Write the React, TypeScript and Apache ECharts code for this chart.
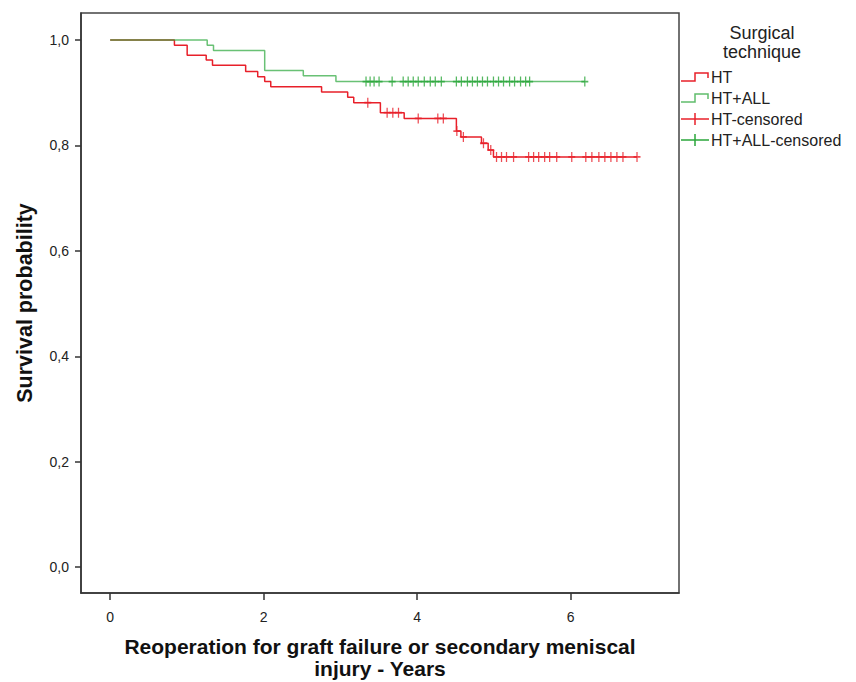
import React, { useEffect, useRef } from "react";
import * as echarts from "echarts";

// Kaplan-Meier step data (time in years, survival probability)
const HT_TIMES = [0, 0.837, 1.003, 1.251, 1.333, 1.765, 1.922, 2.013, 2.092, 2.754, 3.094, 3.173, 3.52, 3.83, 4.51, 4.569, 4.837, 4.924, 4.993, 6.863];
const HT_SURV = [1, 0.99, 0.971, 0.962, 0.952, 0.94, 0.93, 0.921, 0.911, 0.901, 0.891, 0.881, 0.862, 0.851, 0.827, 0.816, 0.804, 0.791, 0.778, 0.778];
const HTALL_TIMES = [0, 1.264, 1.346, 2.013, 2.516, 2.941, 6.183];
const HTALL_SURV = [1, 0.99, 0.98, 0.942, 0.932, 0.921, 0.921];

// Censoring times
const HT_CENSORED = [3.356, 3.608, 3.682, 3.756, 4.013, 4.268, 4.34, 4.516, 4.601, 4.863, 4.958, 5.033, 5.098, 5.163, 5.255, 5.451, 5.516, 5.582, 5.66, 5.725, 5.817, 6.013, 6.196, 6.275, 6.366, 6.444, 6.523, 6.601, 6.68, 6.863];
const HTALL_CENSORED = [3.333, 3.386, 3.438, 3.503, 3.673, 3.817, 3.882, 3.948, 4.013, 4.092, 4.17, 4.235, 4.314, 4.51, 4.575, 4.654, 4.719, 4.784, 4.85, 4.915, 4.993, 5.059, 5.124, 5.203, 5.268, 5.346, 5.412, 5.464, 6.183];

const X_TICKS = [0, 2, 4, 6];
const Y_TICKS = [0, 0.2, 0.4, 0.6, 0.8, 1.0];

const LEGEND_TITLE = ["Surgical", "technique"];
const LEGEND_ITEMS = ["HT", "HT+ALL", "HT-censored", "HT+ALL-censored"];

const RED = "#e8202a";
const GREEN = "#2aa63a";
const FONT = "Liberation Sans";

function survAt(times: number[], surv: number[], t: number) {
  let s = surv[0];
  for (let i = 0; i < times.length; i++) {
    if (times[i] <= t + 1e-9) s = surv[i];
  }
  return s;
}

const PLUS = "path://M5,0L5,10M0,5L10,5";

export default function App() {
  const ref = useRef<HTMLDivElement>(null);
  useEffect(() => {
    if (!ref.current) return;
    const chart = echarts.init(ref.current, undefined, { renderer: "svg" });
    const htLine = HT_TIMES.map((t, i) => [t, HT_SURV[i]]);
    const allLine = HTALL_TIMES.map((t, i) => [t, HTALL_SURV[i]]);
    const htCens = HT_CENSORED.map((t) => [t, survAt(HT_TIMES, HT_SURV, t)]);
    const allCens = HTALL_CENSORED.map((t) => [t, survAt(HTALL_TIMES, HTALL_SURV, t)]);

    const lx = 681;
    const ly = [77, 98, 119, 140];
    const graphics: any[] = [
      { type: "text", x: 762, y: 33, style: { text: LEGEND_TITLE[0], font: `18px "${FONT}"`, fill: "#222", textAlign: "center", textVerticalAlign: "middle" } },
      { type: "text", x: 762, y: 52, style: { text: LEGEND_TITLE[1], font: `18px "${FONT}"`, fill: "#222", textAlign: "center", textVerticalAlign: "middle" } },
    ];
    LEGEND_ITEMS.forEach((name, i) => {
      const y = ly[i];
      const col = i % 2 === 0 ? RED : GREEN;
      if (i < 2) {
        graphics.push({
          type: "polyline",
          shape: { points: [[lx, y + 4], [lx + 14, y + 4], [lx + 14, y - 4], [lx + 27, y - 4], [lx + 27, y + 1]] },
          style: { stroke: col, lineWidth: 1.5, fill: "none", opacity: i === 1 ? 0.75 : 1 },
        });
      } else {
        graphics.push({ type: "line", shape: { x1: lx, y1: y, x2: lx + 28, y2: y }, style: { stroke: col, lineWidth: 1.5 } });
        graphics.push({ type: "line", shape: { x1: lx + 14, y1: y - 6, x2: lx + 14, y2: y + 6 }, style: { stroke: col, lineWidth: 1.5 } });
      }
      graphics.push({ type: "text", x: lx + 30, y: y, style: { text: name, font: `16px "${FONT}"`, fill: "#222", textVerticalAlign: "middle" } });
    });

    chart.setOption({
      animation: false,
      backgroundColor: "#fff",
      grid: {
        left: 81, top: 13, right: 177, bottom: 89,
        outerBoundsMode: "none", containLabel: false,
        show: true, borderColor: "#444", borderWidth: 1.5, backgroundColor: "transparent",
      },
      xAxis: {
        type: "value",
        min: -0.38,
        max: 7.41,
        name: "Reoperation for graft failure or secondary meniscal\ninjury - Years",
        nameLocation: "middle",
        nameGap: 42,
        nameTextStyle: { fontFamily: FONT, fontWeight: "bold", fontSize: 21, color: "#111", lineHeight: 22 },
        axisLine: { show: true, onZero: false, lineStyle: { color: "#333", width: 1.5 } },
        axisTick: { show: true, length: 7, customValues: X_TICKS, lineStyle: { color: "#333", width: 1.5 } },
        axisLabel: { customValues: X_TICKS, margin: 17, fontFamily: FONT, fontSize: 14, color: "#222" },
        splitLine: { show: false },
      },
      yAxis: {
        type: "value",
        min: -0.049,
        max: 1.051,
        name: "Survival probability",
        nameLocation: "middle",
        nameGap: 45,
        nameRotate: 90,
        nameTextStyle: { fontFamily: FONT, fontWeight: "bold", fontSize: 21.5, color: "#111" },
        axisLine: { show: true, onZero: false, lineStyle: { color: "#333", width: 1.5 } },
        axisTick: { show: true, length: 6, customValues: Y_TICKS, lineStyle: { color: "#333", width: 1.5 } },
        axisLabel: {
          customValues: Y_TICKS,
          margin: 12,
          fontFamily: FONT,
          fontSize: 14,
          color: "#222",
          formatter: (v: number) => v.toFixed(1).replace(".", ","),
        },
        splitLine: { show: false },
      },
      series: [
        { type: "line", name: "HT", data: htLine, step: "end", symbol: "none", silent: true, lineStyle: { color: RED, width: 1.5 } },
        { type: "line", name: "HT+ALL", data: allLine, step: "end", symbol: "none", silent: true, lineStyle: { color: GREEN, width: 1.5, opacity: 0.7 } },
        {
          type: "scatter", name: "HT-censored", data: htCens, symbol: PLUS, symbolSize: [7, 10], silent: true,
          itemStyle: { color: "transparent", borderColor: RED, borderWidth: 1.5 },
        },
        {
          type: "scatter", name: "HT+ALL-censored", data: allCens, symbol: PLUS, symbolSize: [7, 10], silent: true,
          itemStyle: { color: "transparent", borderColor: GREEN, borderWidth: 1.5 },
        },
      ],
      graphic: graphics,
    });
    return () => chart.dispose();
  }, []);
  return <div ref={ref} style={{ position: "absolute", left: 0, top: 0, width: 856, height: 682 }} />;
}
